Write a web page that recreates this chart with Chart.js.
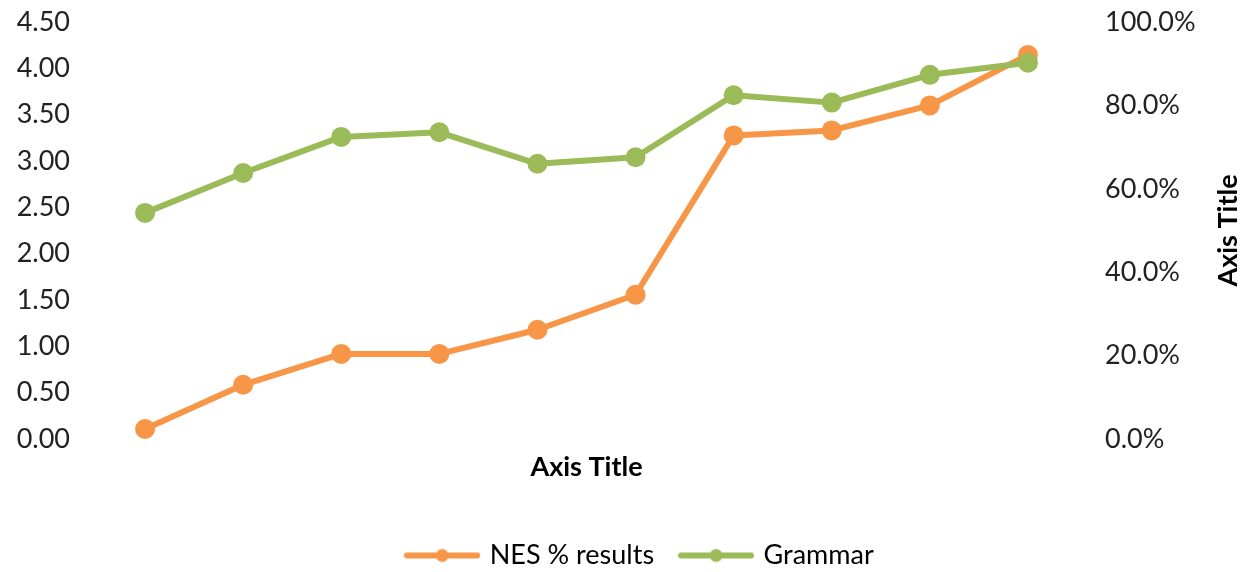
<!DOCTYPE html>
<html>
<head>
<meta charset="utf-8">
<script src="https://cdn.jsdelivr.net/npm/chart.js@4.4.0/dist/chart.umd.min.js"></script>
<style>
  html, body { margin: 0; padding: 0; background: #fff; }
  #wrap { width: 1242px; height: 572px; }
</style>
</head>
<body>
<div id="wrap"><canvas id="grafico"></canvas></div>
<script>
// dados
const categorias = [1, 2, 3, 4, 5, 6, 7, 8, 9, 10];
const nesResultados = [2.4, 13.0, 20.4, 20.4, 26.2, 34.6, 72.8, 74.0, 80.0, 92.1];
const grammar = [2.44, 2.87, 3.26, 3.31, 2.97, 3.04, 3.71, 3.63, 3.93, 4.06];
const ticksEsquerda = [0, 0.5, 1, 1.5, 2, 2.5, 3, 3.5, 4, 4.5];
const ticksDireita = [0, 20, 40, 60, 80, 100];

const corLaranja = '#F79646';
const corVerde = '#9BBB59';
const fonte = 'Lato, "Open Sans", sans-serif';

// icone da legenda: linha com bolinha no meio
function iconeLegenda(cor) {
    const c = document.createElement('canvas');
    c.width = 76;
    c.height = 20;
    const g = c.getContext('2d');
    g.strokeStyle = cor;
    g.lineWidth = 6;
    g.lineCap = 'round';
    g.beginPath();
    g.moveTo(3, 10);
    g.lineTo(73, 10);
    g.stroke();
    g.fillStyle = cor;
    g.beginPath();
    g.arc(38, 10, 6.5, 0, Math.PI * 2);
    g.fill();
    return c;
}

// titulo do eixo da direita, girado de baixo para cima
const tituloDireita = {
    id: 'tituloDireita',
    afterDraw(chart) {
        const ctx = chart.ctx;
        const area = chart.chartArea;
        ctx.save();
        ctx.translate(1228, (area.top + area.bottom) / 2);
        ctx.rotate(-Math.PI / 2);
        ctx.font = 'bold 27px ' + fonte;
        ctx.fillStyle = '#000';
        ctx.textAlign = 'center';
        ctx.textBaseline = 'middle';
        ctx.fillText('Axis Title', 0, 0);
        ctx.restore();
    }
};

// legenda um pouco para a direita, centrada sob a area do grafico
const ajusteLegenda = {
    id: 'ajusteLegenda',
    afterLayout(chart) {
        const leg = chart.legend;
        leg.left += 20;
        leg.right += 20;
        leg.top += 2;
        leg.bottom += 2;
    }
};

function semFolga(scale) {
    scale.paddingTop = 0;
    scale.paddingBottom = 0;
}

const ctx = document.getElementById('grafico').getContext('2d');
new Chart(ctx, {
    type: 'line',
    data: {
        labels: categorias,
        datasets: [{
            label: 'NES % results',
            data: nesResultados,
            yAxisID: 'yDireita',
            borderColor: corLaranja,
            backgroundColor: corLaranja,
            borderWidth: 6,
            pointRadius: 10,
            pointHoverRadius: 10,
            pointBorderWidth: 0,
            order: 1
        }, {
            label: 'Grammar',
            data: grammar,
            yAxisID: 'yEsquerda',
            borderColor: corVerde,
            backgroundColor: corVerde,
            borderWidth: 6,
            pointRadius: 10,
            pointHoverRadius: 10,
            pointBorderWidth: 0,
            order: 0
        }]
    },
    options: {
        responsive: true,
        maintainAspectRatio: false,
        animation: false,
        devicePixelRatio: 1,
        layout: { padding: { top: 22, left: 0, right: 0, bottom: -5 } },
        elements: {
            line: { tension: 0, borderCapStyle: 'round', borderJoinStyle: 'round' }
        },
        plugins: {
            tooltip: { enabled: false },
            legend: {
                position: 'bottom',
                labels: {
                    usePointStyle: true,
                    pointStyleWidth: 68,
                    padding: 28,
                    color: '#000',
                    font: { family: fonte, size: 27 },
                    generateLabels(chart) {
                        return chart.data.datasets.map((ds, i) => ({
                            text: ds.label,
                            pointStyle: iconeLegenda(ds.borderColor),
                            fillStyle: ds.borderColor,
                            strokeStyle: ds.borderColor,
                            lineWidth: 0,
                            fontColor: '#000',
                            hidden: false,
                            datasetIndex: i
                        }));
                    }
                }
            }
        },
        scales: {
            x: {
                type: 'category',
                offset: true,
                grid: { display: false, drawTicks: false },
                border: { display: false },
                ticks: { display: false },
                title: {
                    display: true,
                    text: 'Axis Title',
                    color: '#000',
                    font: { family: fonte, size: 27, weight: 'bold' },
                    padding: { top: 0, bottom: 29 }
                },
                afterFit(scale) { scale.height = 73; }
            },
            yEsquerda: {
                position: 'left',
                min: 0,
                max: 4.5,
                grid: { display: false, drawTicks: false },
                border: { display: false },
                afterBuildTicks(scale) {
                    scale.ticks = ticksEsquerda.map(v => ({ value: v }));
                },
                ticks: {
                    color: '#222',
                    font: { family: fonte, size: 27 },
                    padding: 26,
                    callback: v => Number(v).toFixed(2)
                },
                afterFit(scale) { scale.width = 96; semFolga(scale); }
            },
            yDireita: {
                position: 'right',
                min: 0,
                max: 100,
                grid: { display: false, drawTicks: false },
                border: { display: false },
                afterBuildTicks(scale) {
                    scale.ticks = ticksDireita.map(v => ({ value: v }));
                },
                ticks: {
                    color: '#222',
                    font: { family: fonte, size: 27 },
                    padding: 28,
                    callback: v => Number(v).toFixed(1) + '%'
                },
                afterFit(scale) { scale.width = 165; semFolga(scale); }
            }
        }
    },
    plugins: [tituloDireita, ajusteLegenda]
});
</script>
</body>
</html>
